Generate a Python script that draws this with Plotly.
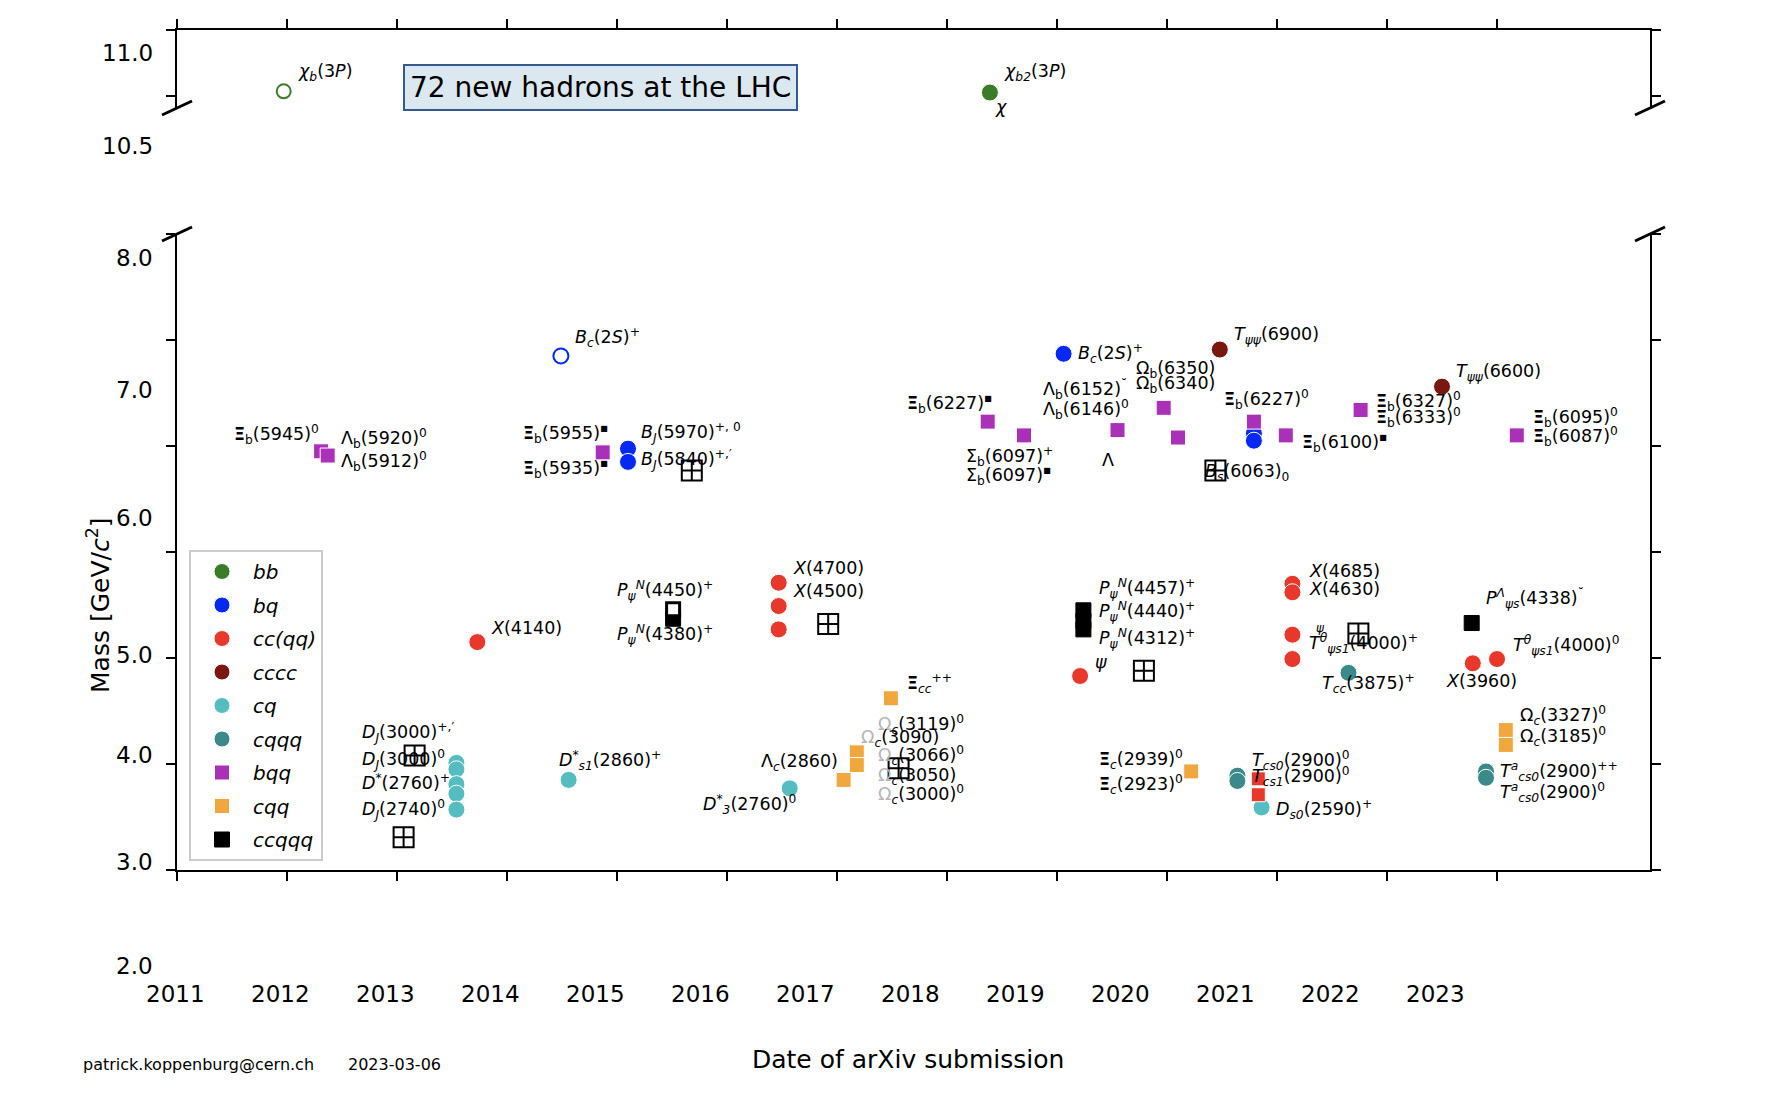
import plotly.graph_objects as go

# ---------------- data (date of arXiv submission [year], mass [GeV]) ----------------
bb_year = [2018.39]
bb_mass = [10.527]
bb_open_year = [2011.97]
bb_open_mass = [10.536]

bq_year = [2015.10, 2015.10, 2019.06, 2020.79, 2020.79]
bq_mass = [5.975, 5.85, 6.87, 6.12, 6.05]
bq_open_year = [2014.49]
bq_open_mass = [6.85]

cc_year = [2013.73, 2016.47, 2016.47, 2016.47, 2019.21, 2021.14, 2021.14, 2021.14, 2021.14, 2022.78, 2023.00]
cc_mass = [4.15, 4.71, 4.49, 4.27, 3.83, 4.70, 4.62, 4.22, 3.99, 3.95, 3.99]

cccc_year = [2020.48, 2022.50]
cccc_mass = [6.91, 6.56]

cq_year = [2013.54, 2013.54, 2013.54, 2013.54, 2013.54, 2014.56, 2016.57, 2020.86]
cq_mass = [3.01, 2.95, 2.81, 2.72, 2.57, 2.85, 2.77, 2.59]

cqqq_year = [2021.65, 2020.64, 2020.64, 2022.90, 2022.90]
cqqq_mass = [3.86, 2.89, 2.84, 2.93, 2.87]

bqq_year = [2012.31, 2012.37, 2014.87, 2018.37, 2018.70, 2019.55, 2019.97, 2020.10, 2020.79, 2021.08, 2021.76, 2023.18]
bqq_mass = [5.95, 5.91, 5.94, 6.23, 6.10, 6.15, 6.36, 6.08, 6.23, 6.10, 6.34, 6.10]

cqq_year = [2017.49, 2017.18, 2017.18, 2017.06, 2020.22, 2023.08, 2023.08]
cqq_mass = [3.62, 3.11, 2.99, 2.85, 2.93, 3.32, 3.18]

ccqqq_year = [2015.51, 2019.24, 2019.24, 2019.24, 2022.77]
ccqqq_mass = [4.37, 4.45, 4.35, 4.27, 4.33]
ccqqq_open_year = [2015.51]
ccqqq_open_mass = [4.46]

red_sq_year = [2020.83, 2020.83]
red_sq_mass = [2.86, 2.71]

boxplus_year = [2015.68, 2016.92, 2020.44, 2019.79, 2021.74, 2017.56, 2013.16, 2013.06]
boxplus_mass = [5.77, 4.32, 5.77, 3.88, 4.23, 2.96, 3.08, 2.31]
boxplus_top_year = [2018.85]
boxplus_top_mass = [10.329]

year_ticks = list(range(2011, 2024))
year_tick_labels = [str(y) for y in year_ticks]
mass_ticks_low = [2, 3, 4, 5, 6, 7, 8]
mass_ticks_top = [10.5, 11.0]
ytick_labels = ["11.0", "10.5", "8.0", "7.0", "6.0", "5.0", "4.0", "3.0", "2.0"]
ytick_label_pix = [53, 146, 258, 390, 518, 655, 755, 862, 966]   # label placement (layout)

XI = "<b>Ξ</b>"
SQ = "<sup>▪</sup>"
OM = "<span style='color:#b4b4b4'>Ω</span>"

labels_low = [
    (XI + "<sub>b</sub>(5945)<sup>0</sup>", 2011.50, 6.11),
    ("Λ<sub>b</sub>(5920)<sup>0</sup>", 2012.47, 6.07),
    ("Λ<sub>b</sub>(5912)<sup>0</sup>", 2012.47, 5.85),
    ("<i>B<sub>c</sub></i>(2<i>S</i>)<sup>+</sup>", 2014.60, 7.02),
    (XI + "<sub>b</sub>(5955)" + SQ, 2014.13, 6.12),
    (XI + "<sub>b</sub>(5935)" + SQ, 2014.13, 5.79),
    ("<i>B<sub>J</sub></i>(5970)<sup>+, 0</sup>", 2015.20, 6.13),
    ("<i>B<sub>J</sub></i>(5840)<sup>+,′</sup>", 2015.20, 5.87),
    (XI + "<sub>b</sub>(6227)" + SQ, 2017.62, 6.40),
    ("Σ<sub>b</sub>(6097)<sup>+</sup>", 2018.15, 5.90),
    ("Σ<sub>b</sub>(6097)" + SQ, 2018.15, 5.72),
    ("Λ<sub>b</sub>(6152)<sup>˘</sup>", 2018.85, 6.53),
    ("Λ<sub>b</sub>(6146)<sup>0</sup>", 2018.85, 6.34),
    ("Λ", 2019.39, 5.87),
    ("<i>B<sub>c</sub></i>(2<i>S</i>)<sup>+</sup>", 2019.17, 6.87),
    ("Ω<sub>b</sub>(6350)", 2019.70, 6.72),
    ("Ω<sub>b</sub>(6340)", 2019.70, 6.58),
    ("<i>T<sub>ψψ</sub></i>(6900)", 2020.59, 7.04),
    (XI + "<sub>b</sub>(6227)<sup>0</sup>", 2020.50, 6.44),
    ("<i>B<sub>s</sub></i>(6063)<sub>0</sub>", 2020.33, 5.75),
    (XI + "<sub>b</sub>(6100)" + SQ, 2021.21, 6.03),
    (XI + "<sub>b</sub>(6327)<sup>0</sup>", 2021.88, 6.42),
    (XI + "<sub>b</sub>(6333)<sup>0</sup>", 2021.88, 6.27),
    ("<i>T<sub>ψψ</sub></i>(6600)", 2022.61, 6.69),
    (XI + "<sub>b</sub>(6095)<sup>0</sup>", 2023.31, 6.27),
    (XI + "<sub>b</sub>(6087)<sup>0</sup>", 2023.31, 6.09),
    ("<i>X</i>(4140)", 2013.84, 4.28),
    ("<i>P<sub>ψ</sub><sup>N</sup></i>(4450)<sup>+</sup>", 2014.98, 4.64),
    ("<i>P<sub>ψ</sub><sup>N</sup></i>(4380)<sup>+</sup>", 2014.98, 4.22),
    ("<i>X</i>(4700)", 2016.58, 4.85),
    ("<i>X</i>(4500)", 2016.58, 4.63),
    ("<i>P<sub>ψ</sub><sup>N</sup></i>(4457)<sup>+</sup>", 2019.36, 4.66),
    ("<i>P<sub>ψ</sub><sup>N</sup></i>(4440)<sup>+</sup>", 2019.36, 4.44),
    ("<i>P<sub>ψ</sub><sup>N</sup></i>(4312)<sup>+</sup>", 2019.36, 4.18),
    ("<i>ψ</i>", 2019.33, 3.96),
    ("<i>X</i>(4685)", 2021.27, 4.82),
    ("<i>X</i>(4630)", 2021.27, 4.65),
    ("<i>T<sup>θ</sup><sub>ψs1</sub></i>(4000)<sup>+</sup>", 2021.27, 4.14),
    ("<i>T<sub>cc</sub></i>(3875)<sup>+</sup>", 2021.39, 3.76),
    ("<i>P<sup>Λ</sup><sub>ψs</sub></i>(4338)<sup>˘</sup>", 2022.88, 4.56),
    ("<i>T<sup>θ</sup><sub>ψs1</sub></i>(4000)<sup>0</sup>", 2023.13, 4.12),
    ("<i>X</i>(3960)", 2022.52, 3.78),
    ("<i>D<sup>*</sup><sub>s1</sub></i>(2860)<sup>+</sup>", 2014.45, 3.03),
    ("Λ<sub><i>c</i></sub>(2860)", 2016.29, 3.01),
    ("<i>D<sup>*</sup><sub>3</sub></i>(2760)<sup>0</sup>", 2015.76, 2.62),
    (XI + "<sub><i>cc</i></sub><sup>++</sup>", 2017.62, 3.76),
    (OM + "<sub><i>c</i></sub>(3119)<sup>0</sup>", 2017.35, 3.37),
    (OM + "<sub><i>c</i></sub>(3090)", 2017.20, 3.24),
    (OM + "<sub><i>c</i></sub>(3066)<sup>0</sup>", 2017.35, 3.08),
    (OM + "<sub><i>c</i></sub>(3050)", 2017.35, 2.88),
    (OM + "<sub><i>c</i></sub>(3000)<sup>0</sup>", 2017.35, 2.71),
    ("<i>D<sub>J</sub></i>(3000)<sup>+,′</sup>", 2012.66, 3.30),
    ("<i>D<sub>J</sub></i>(3000)<sup>0</sup>", 2012.66, 3.04),
    ("<i>D<sup>*</sup></i>(2760)<sup>+</sup>", 2012.66, 2.83),
    ("<i>D<sub>J</sub></i>(2740)<sup>0</sup>", 2012.66, 2.57),
    (XI + "<sub><i>c</i></sub>(2939)<sup>0</sup>", 2019.36, 3.04),
    (XI + "<sub><i>c</i></sub>(2923)<sup>0</sup>", 2019.36, 2.81),
    ("<i>T<sub>cs0</sub></i>(2900)<sup>0</sup>", 2020.75, 3.03),
    ("<i>T<sub>cs1</sub></i>(2900)<sup>0</sup>", 2020.75, 2.88),
    ("<i>D<sub>s0</sub></i>(2590)<sup>+</sup>", 2020.97, 2.57),
    ("Ω<sub><i>c</i></sub>(3327)<sup>0</sup>", 2023.19, 3.46),
    ("Ω<sub><i>c</i></sub>(3185)<sup>0</sup>", 2023.19, 3.26),
    ("<i>T<sup>a</sup><sub>cs0</sub></i>(2900)<sup>++</sup>", 2023.01, 2.93),
    ("<i>T<sup>a</sup><sub>cs0</sub></i>(2900)<sup>0</sup>", 2023.01, 2.73),
]

labels_top = [
    ("<i>χ<sub>b</sub></i>(3<i>P</i>)", 2012.08, 10.68),
    ("<i>χ<sub>b2</sub></i>(3<i>P</i>)", 2018.50, 10.68),
    ("<i>χ</i>", 2018.42, 10.42),
]

# ---------------- layout geometry (page body has an 8 px margin) ----------------
OFF = 8
W, H = 1770 - 2 * OFF, 1100 - 2 * OFF
ML, MT = 177 - OFF, 30 - OFF
PW = 1473
PH = 945
MR = W - ML - PW
MB = H - MT - PH


def paper_y(pix):
    return (MT + PH - (pix - OFF)) / PH


def paper_x(pix):
    return (pix - OFF - ML) / PW


low_dom = [paper_y(870), paper_y(234)]
top_dom = [paper_y(108), 1.0]
x_range = [2011, 2011 + PW / 110.0]

FONT = "DejaVu Sans"
LBL = 17.5
C = dict(bb="#3a7d28", bq="#0628f5", cc="#e8372b", cccc="#7a1810",
         cq="#55bcc0", cqqq="#3b898b", bqq="#ab30b8", cqq="#f0a73e", ccqqq="#000000")

fig = go.Figure()

WL = dict(color="white", width=1)


def add(x, y, name, color, symbol, size, xa="x", ya="y", legend=True, line=None):
    fig.add_trace(go.Scatter(
        x=x, y=y, mode="markers", name=name, xaxis=xa, yaxis=ya,
        showlegend=legend, legendgroup=name, cliponaxis=False,
        marker=dict(color=color, symbol=symbol, size=size, line=line or WL),
        hoverinfo="skip"))


# legend order
add(bb_year, bb_mass, "<i>bb</i>", C["bb"], "circle", 17, "x2", "y2")
add(bq_year, bq_mass, "<i>bq</i>", C["bq"], "circle", 17)
add(cc_year, cc_mass, "<i>cc(qq)</i>", C["cc"], "circle", 17)
add(cccc_year, cccc_mass, "<i>cccc</i>", C["cccc"], "circle", 17)
add(cq_year, cq_mass, "<i>cq</i>", C["cq"], "circle", 17)
add(cqqq_year, cqqq_mass, "<i>cqqq</i>", C["cqqq"], "circle", 17)
add(bqq_year, bqq_mass, "<i>bqq</i>", C["bqq"], "square", 15)
add(cqq_year, cqq_mass, "<i>cqq</i>", C["cqq"], "square", 15)
add(ccqqq_year, ccqqq_mass, "<i>ccqqq</i>", C["ccqqq"], "square", 15,
    line=dict(color="black", width=1))

# extra marks without legend entries
add(bb_open_year, bb_open_mass, "bb open", C["bb"], "circle-open", 14, "x2", "y2", False,
    line=dict(color=C["bb"], width=2))
add(bq_open_year, bq_open_mass, "bq open", C["bq"], "circle-open", 15, legend=False,
    line=dict(color=C["bq"], width=2))
add(ccqqq_open_year, ccqqq_open_mass, "ccqqq open", "white", "square", 13, legend=False,
    line=dict(color="black", width=3))
add(red_sq_year, red_sq_mass, "red sq", C["cc"], "square", 14, legend=False)
add(boxplus_year, boxplus_mass, "boxplus", "black", "square-cross-open", 20, legend=False,
    line=dict(color="black", width=2))
add(boxplus_top_year, boxplus_top_mass, "boxplus top", "black", "square-cross-open", 20,
    "x2", "y2", False, line=dict(color="black", width=2))

ann = []
for txt, xx, yy in labels_low:
    ann.append(dict(text=txt, x=xx, y=yy, xref="x", yref="y", xanchor="left", yanchor="middle",
                    showarrow=False, font=dict(family=FONT, size=LBL, color="black")))
ann.append(dict(text="<i>ψ</i>", x=2021.34, y=4.28, xref="x", yref="y", xanchor="left",
                yanchor="middle", showarrow=False, font=dict(family=FONT, size=12, color="black")))
for txt, xx, yy in labels_top:
    ann.append(dict(text=txt, x=xx, y=yy, xref="x2", yref="y2", xanchor="left", yanchor="middle",
                    showarrow=False, font=dict(family=FONT, size=LBL, color="black")))

# title box
ann.append(dict(text="72 new hadrons at the LHC", x=2014.85, y=10.562, xref="x2", yref="y2",
                xanchor="center", yanchor="middle", showarrow=False,
                font=dict(family=FONT, size=28, color="black"),
                bgcolor="#dce8f0", bordercolor="#34598e", borderwidth=2, borderpad=5))

# y tick labels
for txt, pix in zip(ytick_labels, ytick_label_pix):
    ann.append(dict(text=txt, x=paper_x(155), y=paper_y(pix), xref="paper", yref="paper",
                    xanchor="right", yanchor="middle", showarrow=False,
                    font=dict(family=FONT, size=23, color="black")))
# x tick labels
for k, txt in enumerate(year_tick_labels):
    ann.append(dict(text=txt, x=paper_x(175 + 105 * k), y=paper_y(994), xref="paper", yref="paper",
                    xanchor="center", yanchor="middle", showarrow=False,
                    font=dict(family=FONT, size=23, color="black")))

# axis titles and footer
ann.append(dict(text="Mass [GeV/<i>c</i><sup>2</sup>]", x=paper_x(98), y=paper_y(605), xref="paper",
                yref="paper", textangle=-90, showarrow=False, xanchor="center", yanchor="middle",
                font=dict(family=FONT, size=25, color="black")))
ann.append(dict(text="Date of arXiv submission", x=paper_x(908), y=paper_y(1059), xref="paper",
                yref="paper", showarrow=False, xanchor="center", yanchor="middle",
                font=dict(family=FONT, size=25, color="black")))
ann.append(dict(text="patrick.koppenburg@cern.ch", x=paper_x(81), y=paper_y(1064), xref="paper",
                yref="paper", showarrow=False, xanchor="left", yanchor="middle",
                font=dict(family=FONT, size=16, color="black")))
ann.append(dict(text="2023-03-06", x=paper_x(346), y=paper_y(1064), xref="paper",
                yref="paper", showarrow=False, xanchor="left", yanchor="middle",
                font=dict(family=FONT, size=16, color="black")))

# axis-break marks
shapes = []
for xr in (0, 1):
    shapes.append(dict(type="line", xref="x domain", yref="y domain", xsizemode="pixel",
                       ysizemode="pixel", xanchor=xr, yanchor=1, x0=-15, x1=15, y0=-7, y1=7,
                       line=dict(color="black", width=3)))
    shapes.append(dict(type="line", xref="x2 domain", yref="y2 domain", xsizemode="pixel",
                       ysizemode="pixel", xanchor=xr, yanchor=0, x0=-15, x1=15, y0=-7, y1=7,
                       line=dict(color="black", width=3)))

axis_common = dict(showline=True, linecolor="black", linewidth=2, ticks="outside", ticklen=9,
                   tickwidth=2, tickcolor="black", showgrid=False, zeroline=False,
                   showticklabels=False)

fig.update_layout(
    width=W, height=H, margin=dict(l=ML, r=MR, t=MT, b=MB, pad=0),
    paper_bgcolor="white", plot_bgcolor="white",
    xaxis=dict(domain=[0, 1], range=x_range, anchor="y", tickvals=year_ticks, **axis_common),
    yaxis=dict(domain=low_dom, range=[2, 8], anchor="x", tickvals=mass_ticks_low, mirror="ticks",
               **axis_common),
    xaxis2=dict(domain=[0, 1], range=x_range, matches="x", anchor="y2", side="top",
                tickvals=year_ticks, **axis_common),
    yaxis2=dict(domain=top_dom, range=[10.41, 11.0], anchor="x2", tickvals=mass_ticks_top,
                mirror="ticks", **axis_common),
    legend=dict(x=paper_x(189), y=paper_y(550), xanchor="left", yanchor="top",
                bgcolor="white", bordercolor="#cccccc", borderwidth=2,
                font=dict(family=FONT, size=20, color="black"), tracegroupgap=4.5,
                itemwidth=52, entrywidth=95, entrywidthmode="pixels"),
    annotations=ann, shapes=shapes, showlegend=True,
)

fig.write_html("out.html")
